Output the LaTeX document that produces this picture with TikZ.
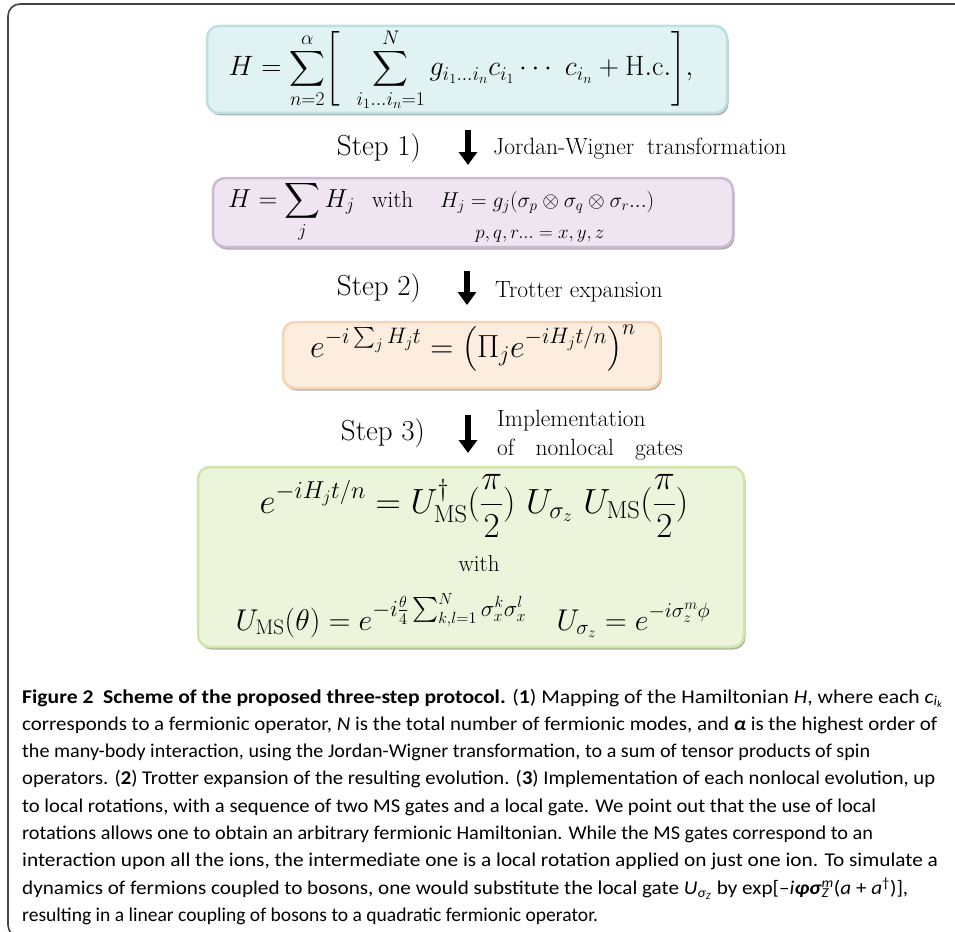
\RequirePackage{fix-cm}
\documentclass[tikz,border=0pt]{standalone}
\usepackage{amsmath}
\usepackage{graphicx}
\usepackage{fontspec}
\newfontfamily\capfont{Carlito}
\usetikzlibrary{shadows,arrows.meta}
\definecolor{cyanfill}{HTML}{E1F2F2}
\definecolor{cyanline}{HTML}{BCDFDF}
\definecolor{purpfill}{HTML}{EEE5F0}
\definecolor{purpline}{HTML}{CDB8D3}
\definecolor{orgfill}{HTML}{FDEDDF}
\definecolor{orgline}{HTML}{F7D3B3}
\definecolor{grnfill}{HTML}{ECF4DB}
\definecolor{grnline}{HTML}{CFE5AA}
\definecolor{framecol}{HTML}{444444}
\newcommand{\fs}[1]{\fontsize{#1}{#1}\selectfont}
\makeatletter
\newcommand{\midl}[1]{\mathopen{\bBigg@{1.2}{#1}}}
\newcommand{\midr}[1]{\mathclose{\bBigg@{1.2}{#1}}}
\makeatother
\begin{document}
\begin{tikzpicture}[x=1pt,y=-1pt,
  box/.style={draw, line width=2.5pt, rounded corners=12pt, inner sep=0pt,
    drop shadow={shadow xshift=1.5pt, shadow yshift=-2.5pt, opacity=0.45, fill=black!70}},
  eq/.style={anchor=base, inner sep=0pt},
  eqw/.style={anchor=base west, inner sep=0pt},
  steplbl/.style={font=\fs{29}, inner sep=0pt},
  arrowlbl/.style={font=\fs{23.5}, anchor=base west, inner sep=0pt},
  bigarrow/.style={line width=6pt, -{Triangle[width=18pt,length=13pt]}},
  capline/.style={anchor=base west, inner sep=0pt, font=\capfont\fontsize{19.5}{24}\selectfont}
]
\useasboundingbox (0,0) rectangle (955,931);
% outer frame
\draw[framecol, line width=1.6pt, rounded corners=12pt] (8,4) rectangle (1000,937);

% boxes
\node[box, draw=cyanline, fill=cyanfill, minimum width=520pt, minimum height=87pt] (b1) at (467,69.5) {};
\node[box, draw=purpline, fill=purpfill, minimum width=520pt, minimum height=69pt] (b2) at (473,212.5) {};
\node[box, draw=orgline, fill=orgfill, minimum width=377pt, minimum height=66pt] (b3) at (471.5,355) {};
\node[box, draw=grnline, fill=grnfill, minimum width=546pt, minimum height=180pt] (b4) at (471,557) {};

% box 1
\node[eq, font=\fs{28}] (f1) at (461,76)
 {$\displaystyle H=\sum_{n=2}^{\alpha}\biggl[\ \ \sum_{i_1\dots i_n=1}^{N} g_{i_1\dots i_n}c_{i_1}\cdots\ c_{i_n}+\mathrm{H.c.}\biggr],$};
% box 2
\node[eqw, font=\fs{26}] (f2a) at (228,207) {$\displaystyle H=\sum_j H_j$};
\node[eqw, font=\fs{23}] (f2b) at (372,207) {with};
\node[eqw, font=\fs{21.5}] (f2c) at (440,207) {$H_j=g_j(\sigma_p\otimes\sigma_q\otimes\sigma_r...)$};
\node[eq, font=\fs{19}] (f2d) at (540,238) {$p,q,r...=x,y,z$};
% box 3
\node[eq, font=\fs{32}] (f3) at (473,357)
 {$\displaystyle e^{-i\sum_j H_jt}=\midl(\Pi_j e^{-iH_jt/n}\midr)^n$};
% box 4
\node[eq, font=\fs{35}] (f4a) at (474,513)
 {$\displaystyle e^{-iH_jt/n}=U^{\dagger}_{\mathrm{MS}}(\frac{\pi}{2})\ U_{\sigma_z}\ U_{\mathrm{MS}}(\frac{\pi}{2})$};
\node[eq, font=\fs{23}] (f4b) at (479,571) {with};
\node[eq, font=\fs{30}] (f4c) at (473,630)
 {$\displaystyle U_{\mathrm{MS}}(\theta)=e^{\mbox{\fs{23}$-i\frac{\theta}{4}\sum_{k,l=1}^{N}\sigma_x^k\sigma_x^l$}}\hspace{30pt} U_{\sigma_z}=e^{-i\sigma_z^m\phi}$};

% steps
\node[steplbl] (s1) at (379,148) {Step 1)};
\node[steplbl] (s2) at (379,288) {Step 2)};
\node[steplbl] (s3) at (383,433) {Step 3)};

\coordinate (a1s) at (468,130);
\coordinate (a1e) at (468,165);
\coordinate (a2s) at (467,271);
\coordinate (a2e) at (467,305);
\coordinate (a3s) at (468,415);
\coordinate (a3e) at (468,453);
\draw[bigarrow] (a1s) -- (a1e);
\draw[bigarrow] (a2s) -- (a2e);
\draw[bigarrow] (a3s) -- (a3e);

\node[arrowlbl] (l1) at (493,154) {Jordan-Wigner\hspace{0.55em}transformation};
\node[arrowlbl] (l2) at (495,297) {Trotter expansion};
\node[arrowlbl] (l3a) at (497,426) {Implementation};
\node[arrowlbl] (l3b) at (497,455) {of\hspace{0.9em}nonlocal\hspace{0.9em}gates};

% caption
\node[capline] (c1) at (22,703) {\resizebox{921pt}{\height}{\textbf{Figure 2\hspace{0.45em}Scheme of the proposed three-step protocol.} (\textbf{1}) Mapping of the Hamiltonian \textit{H}, where each \textit{c}\textsubscript{\textit{i}\textsubscript{\textit{k}}}}};
\node[capline] (c2) at (22,730.3) {\resizebox{915pt}{\height}{corresponds to a fermionic operator, \textit{N} is the total number of fermionic modes, and \textbf{\textit{α}} is the highest order of}};
\node[capline] (c3) at (22,757.6) {\resizebox{848pt}{\height}{the many-body interaction, using the Jordan-Wigner transformation, to a sum of tensor products of spin}};
\node[capline] (c4) at (22,784.9) {\resizebox{913pt}{\height}{operators. (\textbf{2}) Trotter expansion of the resulting evolution. (\textbf{3}) Implementation of each nonlocal evolution, up}};
\node[capline] (c5) at (22,812.2) {\resizebox{854pt}{\height}{to local rotations, with a sequence of two MS gates and a local gate. We point out that the use of local}};
\node[capline] (c6) at (22,839.5) {\resizebox{851pt}{\height}{rotations allows one to obtain an arbitrary fermionic Hamiltonian. While the MS gates correspond to an}};
\node[capline] (c7) at (22,866.8) {\resizebox{916pt}{\height}{interaction upon all the ions, the intermediate one is a local rotation applied on just one ion. To simulate a}};
\node[capline] (c8) at (22,894.1) {\resizebox{886pt}{\height}{dynamics of fermions coupled to bosons, one would substitute the local gate \textit{U}\textsubscript{\textit{σ}\textsubscript{\textit{Z}}} by exp[–\textit{i}\textbf{\textit{φσ}}\rlap{\textsubscript{\textit{Z}}}\textsuperscript{\textit{m}}(\textit{a} + \textit{a}\textsuperscript{†})],}};
\node[capline] (c9) at (22,921.4) {\resizebox{576pt}{\height}{resulting in a linear coupling of bosons to a quadratic fermionic operator.}};
\end{tikzpicture}
\end{document}
